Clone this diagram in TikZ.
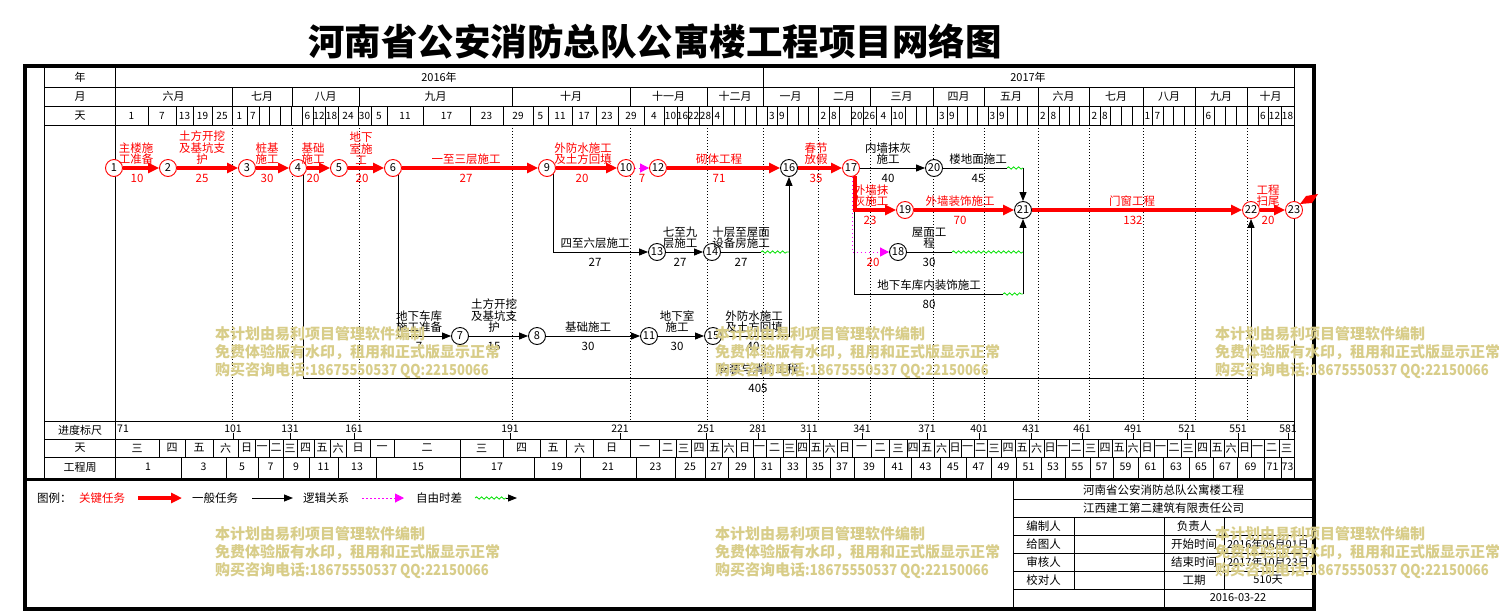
\documentclass[tikz,border=0pt]{standalone}
\usepackage{fontspec}
\setmainfont{Noto Sans CJK SC}
\usetikzlibrary{arrows.meta,decorations.pathmorphing,calc}
\definecolor{wmcol}{RGB}{216,205,137}
\definecolor{magc}{RGB}{255,0,255}
\definecolor{grnc}{RGB}{0,225,0}
\newcommand\myfs[1]{\fontsize{#1}{#1}\selectfont}
\newcommand\wkname[1]{\ifcase#1 一\or 二\or 三\or 四\or 五\or 六\or 日\fi}
\pgfdeclarelayer{bglayer}
\pgfdeclarelayer{midlayer}
\pgfsetlayers{bglayer,midlayer,main}
\begin{document}
\begin{tikzpicture}[x=1pt,y=-1pt,
  every node/.style={inner sep=0pt,font=\myfs{11}},
  tnode/.style={circle,draw=black,line width=0.9pt,fill=white,minimum size=17pt,inner sep=0pt,font=\myfs{11}},
  cnode/.style={tnode,draw=red},
  crit/.style={draw=red,line width=3.5pt,-{Triangle[length=11pt,width=10pt]}},
  norm/.style={draw=black,line width=1pt,-{Triangle[length=9pt,width=7pt]}},
  plain/.style={draw=black,line width=1pt},
  gridline/.style={draw=black,line width=1pt},
  mdot/.style={draw=black,line width=0.9pt,dash pattern=on 1pt off 2pt},
  dummy/.style={draw=magc,line width=1pt,dash pattern=on 1.5pt off 2.5pt,-{Triangle[length=9pt,width=9pt]}},
  wave/.style={draw=grnc,line width=0.8pt,decorate,decoration={snake,amplitude=1.2pt,segment length=5pt}},
  lbl/.style={font=\myfs{11.5},align=center,anchor=south},
  clbl/.style={lbl,text=red},
  dur/.style={font=\myfs{11.5}},
  cdur/.style={dur,text=red},
  wmk/.style={font=\fontsize{15}{18}\selectfont\bfseries,text=wmcol,align=left,anchor=north west}
]
\useasboundingbox (0,0) rectangle (1499,614);
\begin{pgfonlayer}{bglayer}
\fill[white] (0,0) rectangle (1499,614);
% outer frame
\draw[line width=4pt] (25,66) rectangle (1314,609);
\draw[line width=3pt] (25,479) -- (1314,479);
% table frame lines
\draw[gridline] (44,66) -- (44,479);
\draw[gridline] (115,66) -- (115,479);
\draw[gridline] (1294,66) -- (1294,479);
\foreach \y in {87,106,125,421,439,457} \draw[gridline] (44,\y) -- (1294,\y);
% year row
\draw[gridline] (763,68) -- (763,87);
% month row
\foreach \x in {232,292,359,512,630,707,763,818,870,933,984,1038,1089,1143,1195,1247}
  \draw[gridline] (\x,87) -- (\x,106);
% day row
\foreach \x in {148,176,193,212,232,247,259,269,280,291,302,313,325,338,358,371,387,423,470,503,533,548,572,596,618,644,664,677,688,699,712,723,734,745,756,767,777,787,798,808,818,829,839,851,863,876,891,905,916,926,937,947,957,967,977,988,997,1007,1017,1027,1038,1048,1059,1069,1079,1089,1100,1110,1121,1132,1143,1152,1163,1173,1184,1195,1203,1214,1225,1236,1247,1258,1268,1281}
  \draw[gridline] (\x,106) -- (\x,125);
% dotted month lines in the network
\foreach \x in {232,292,359,512,630,707,763,818,870,933,984,1038,1089,1143,1195,1247}
  \draw[mdot] (\x,125) -- (\x,421);
% title block
\draw[gridline] (1013,479) -- (1013,609);
\foreach \y in {499,517,535,553,571,589} \draw[gridline] (1013,\y) -- (1314,\y);
\draw[gridline] (1074,517) -- (1074,589);
\draw[gridline] (1164,517) -- (1164,609);
\draw[gridline] (1224,517) -- (1224,589);
\end{pgfonlayer}

% title
\node[font=\myfs{36.5}\bfseries] (title) at (655,42) {河南省公安消防总队公寓楼工程项目网络图};

% header texts
\node (hy) at (80,77) {年};
\node (hm) at (80,96.5) {月};
\node (hd) at (80,115.5) {天};
\node (y16) at (439,77) {2016年};
\node (y17) at (1028,77) {2017年};
\foreach \x/\t [count=\i] in {173.5/六月,262/七月,325.5/八月,435.5/九月,571/十月,668.5/十一月,735/十二月,790.5/一月,844/二月,901.5/三月,958.5/四月,1011/五月,1063.5/六月,1116/七月,1169/八月,1221/九月,1270.5/十月}
  \node (mo\i) at (\x,96.5) {\t};
\foreach \x/\t [count=\i] in {131.5/1,162/7,184.5/13,202.5/19,222/25,239.5/1,253/7,307.5/6,319/12,331.5/18,348/24,364.5/30,379/5,405/11,446.5/17,486.5/23,518/29,540.5/5,560/11,584/17,607/23,631/29,654/4,670.5/10,682.5/16,693.5/22,705.5/28,717.5/4,772/3,782/9,823.5/2,834/8,857/20,869.5/26,883.5/4,898/10,942/3,952/9,992.5/3,1002/9,1043/2,1053.5/8,1094.5/2,1105/8,1147.5/1,1157.5/7,1208.5/6,1263/6,1274.5/12,1287.5/18}
  \node[font=\myfs{10}] (dy\i) at (\x,115.5) {\t};

% bottom rows
\node (bs) at (80,430) {进度标尺};
\node (bd) at (80,448) {天};
\node (bw) at (80,467) {工程周};
\node[font=\myfs{10.5},anchor=west] (sc0) at (117,429) {71};
\foreach \x/\v [count=\i] in {233/101,290/131,354/161,510/191,620/221,706/251,758/281,809/311,862/341,927/371,979/401,1031/431,1082/461,1133/491,1187/521,1238/551,1288/581}{
  \draw[gridline] (\x,433) -- (\x,439);
  \node[font=\myfs{10.5}] (sc\i) at (\x,428.5) {\v};
}
\foreach \b [remember=\b as \a (initially 115), count=\i from 0] in {159,185,213,238,255,269,283,297,314,330,346,370,394,460,503,540,566,593,630,659,676,691,707,722,736,753,766,783,796,809,823,837,852,871,889,907,919,934,949,961,974,987,1001,1015,1029,1044,1056,1069,1083,1098,1112,1126,1140,1154,1167,1181,1195,1210,1224,1238,1251,1264,1279,1294}{
  \pgfmathtruncatemacro\wkidx{mod(\i+2,7)}
  \draw[gridline] (\b,439) -- (\b,457);
  \node (wk\i) at ({(\a+\b)/2},448) {\wkname{\wkidx}};
}
\foreach \b [remember=\b as \a (initially 115), count=\i from 0] in {181,226,258,283,309,338,376,460,534,580,636,675,705,728,754,780,806,830,854,884,911,940,966,991,1016,1041,1065,1090,1113,1138,1163,1189,1213,1237,1264,1281,1294}{
  \pgfmathtruncatemacro\wknum{2*\i+1}
  \draw[gridline] (\b,457) -- (\b,478);
  \node[font=\myfs{10.5}] (wn\i) at ({(\a+\b)/2},467) {\wknum};
}

% network nodes
\node[cnode] (n1) at (114,168) {1};
\node[cnode] (n2) at (168,168) {2};
\node[cnode] (n3) at (247,168) {3};
\node[cnode] (n4) at (298,168) {4};
\node[cnode] (n5) at (339,168) {5};
\node[cnode] (n6) at (393,168) {6};
\node[cnode] (n9) at (547,168) {9};
\node[cnode] (n10) at (626,168) {10};
\node[cnode] (n12) at (658,168) {12};
\node[tnode] (n16) at (789,168) {16};
\node[cnode] (n17) at (851,168) {17};
\node[tnode] (n20) at (934,168) {20};
\node[cnode] (n19) at (905,210) {19};
\node[tnode] (n21) at (1023,210) {21};
\node[cnode] (n22) at (1251,210) {22};
\node[cnode] (n23) at (1294,210) {23};
\node[tnode] (n18) at (898,252) {18};
\node[tnode] (n13) at (657,252) {13};
\node[tnode] (n14) at (712,252) {14};
\node[tnode] (n7) at (460,336) {7};
\node[tnode] (n8) at (537,336) {8};
\node[tnode] (n11) at (649,336) {11};
\node[tnode] (n15) at (713,336) {15};

\coordinate (c20a) at (1007,168);
\coordinate (c21n) at (1023,168);
\coordinate (c18a) at (952,252);
\coordinate (c18b) at (1023,252);
\coordinate (c80a) at (1003,294);
\coordinate (c80b) at (1023,294);
\coordinate (c14a) at (761,252);
\coordinate (c14b) at (789,252);
\coordinate (c405) at (1251,378);

\begin{pgfonlayer}{midlayer}
% general tasks
\draw[norm] (n4.-54) |- (c405) -- (n22.south);
\draw[norm] (n6.-54) |- (n7.west);
\draw[norm] (n7) -- (n8);
\draw[norm] (n8) -- (n11);
\draw[norm] (n11) -- (n15);
\draw[norm] (n15) -| (n16.south);
\draw[norm] (n9.-45) |- (n13.west);
\draw[norm] (n13) -- (n14);
\draw[plain] (n14) -- (c14a);
\draw[wave] (c14a) -- (c14b);
\draw[norm] (n17) -- (n20);
\draw[plain] (n20) -- (c20a);
\draw[wave] (c20a) -- (c21n);
\draw[norm] (c21n) -- (n21);
\draw[plain] (n18) -- (c18a);
\draw[wave] (c18a) -- (c18b);
\draw[plain] (n17.-65) |- (c80a);
\draw[wave] (c80a) -- (c80b);
\draw[norm] (c80b) -- (n21);
% logic relations
\draw[dummy] (n10) -- (n12);
\draw[dummy] (n17.-83) |- (n18.west);
% critical path
\draw[crit] (n1) -- (n2);
\draw[crit] (n2) -- (n3);
\draw[crit] (n3) -- (n4);
\draw[crit] (n4) -- (n5);
\draw[crit] (n5) -- (n6);
\draw[crit] (n6) -- (n9);
\draw[crit] (n9) -- (n10);
\draw[crit] (n12) -- (n16);
\draw[crit] (n16) -- (n17);
\draw[crit] (n17.-65) |- (n19.west);
\draw[crit] (n19) -- (n21);
\draw[crit] (n21) -- (n22);
\draw[crit] (n22) -- (n23);
\fill[red] (1300,204) -- (1306,196) -- (1318,194) -- (1312,203) -- cycle;
\end{pgfonlayer}

% critical labels
\node[clbl] (l12) at (136,165) {主楼施\\工准备};
\node[cdur] (d12) at (137,178) {10};
\node[clbl] (l23) at (202,165) {土方开挖\\及基坑支\\护};
\node[cdur] (d23) at (202,178) {25};
\node[clbl] (l34) at (267,165) {桩基\\施工};
\node[cdur] (d34) at (267,178) {30};
\node[clbl] (l45) at (313,165) {基础\\施工};
\node[cdur] (d45) at (313,178) {20};
\node[clbl] (l56) at (361,165) {地下\\室施\\工};
\node[cdur] (d56) at (362,178) {20};
\node[clbl] (l69) at (466,165) {一至三层施工};
\node[cdur] (d69) at (466,178) {27};
\node[clbl] (l910) at (583,165) {外防水施工\\及土方回填};
\node[cdur] (d910) at (582,178) {20};
\node[cdur] (d1012) at (642,178) {7};
\node[clbl] (l1216) at (719,165) {砌体工程};
\node[cdur] (d1216) at (719,178) {71};
\node[clbl] (l1617) at (816,165) {春节\\放假};
\node[cdur] (d1617) at (816,178) {35};
\node[clbl] (l1719) at (871,207) {外墙抹\\灰施工};
\node[cdur] (d1719) at (870,220) {23};
\node[clbl] (l1921) at (960,207) {外墙装饰施工};
\node[cdur] (d1921) at (960,220) {70};
\node[clbl] (l2122) at (1132,207) {门窗工程};
\node[cdur] (d2122) at (1133,220) {132};
\node[clbl] (l2223) at (1268,207) {工程\\扫尾};
\node[cdur] (d2223) at (1268,220) {20};
\node[cdur] (d1718) at (873,262) {20};
% general labels
\node[lbl] (l1720) at (888,165) {内墙抹灰\\施工};
\node[dur] (d1720) at (888,178) {40};
\node[lbl] (l2021) at (978,165) {楼地面施工};
\node[dur] (d2021) at (978,178) {45};
\node[lbl] (l1821) at (929,249) {屋面工\\程};
\node[dur] (d1821) at (929,262) {30};
\node[lbl] (l1721) at (929,291) {地下车库内装饰施工};
\node[dur] (d1721) at (929,304) {80};
\node[lbl] (l913) at (595,249) {四至六层施工};
\node[dur] (d913) at (595,262) {27};
\node[lbl] (l1314) at (680,249) {七至九\\层施工};
\node[dur] (d1314) at (680,262) {27};
\node[lbl] (l1416) at (741,249) {十层至屋面\\设备房施工};
\node[dur] (d1416) at (741,262) {27};
\node[lbl] (l67) at (419,333) {地下车库\\施工准备};
\node[dur] (d67) at (419,346) {7};
\node[lbl] (l78) at (494,333) {土方开挖\\及基坑支\\护};
\node[dur] (d78) at (494,346) {15};
\node[lbl] (l811) at (588,333) {基础施工};
\node[dur] (d811) at (588,346) {30};
\node[lbl] (l1115) at (677,333) {地下室\\施工};
\node[dur] (d1115) at (677,346) {30};
\node[lbl] (l1516) at (754,333) {外防水施工\\及土方回填};
\node[dur] (d1516) at (753,346) {40};
\node[lbl] (l422) at (758,375) {安装与消防工程};
\node[dur] (d422) at (758,388) {405};

% legend
\node[anchor=west,font=\myfs{11.5}] (lg0) at (37,498) {图例：};
\node[anchor=west,font=\myfs{11.5},text=red] (lg1) at (79,498) {关键任务};
\coordinate (la1) at (138,498); \coordinate (la2) at (182,498);
\draw[crit] (la1) -- (la2);
\node[anchor=west,font=\myfs{11.5}] (lg2) at (192,498) {一般任务};
\coordinate (lb1) at (252,498); \coordinate (lb2) at (293,498);
\draw[norm] (lb1) -- (lb2);
\node[anchor=west,font=\myfs{11.5}] (lg3) at (303,498) {逻辑关系};
\coordinate (lc1) at (362,498); \coordinate (lc2) at (404,498);
\draw[dummy] (lc1) -- (lc2);
\node[anchor=west,font=\myfs{11.5}] (lg4) at (416,498) {自由时差};
\coordinate (ld1) at (475,498); \coordinate (ld2) at (506,498); \coordinate (ld3) at (517,498);
\draw[wave] (ld1) -- (ld2);
\draw[norm] (ld2) -- (ld3);

% title block texts
\node[font=\myfs{11.5}] (tb1) at (1163.5,490) {河南省公安消防总队公寓楼工程};
\node[font=\myfs{11.5}] (tb2) at (1163.5,508) {江西建工第二建筑有限责任公司};
\node[font=\myfs{11.5}] (tb3) at (1043.5,526) {编制人};
\node[font=\myfs{11.5}] (tb4) at (1043.5,544) {给图人};
\node[font=\myfs{11.5}] (tb5) at (1043.5,562) {审核人};
\node[font=\myfs{11.5}] (tb6) at (1043.5,580) {校对人};
\node[font=\myfs{11.5}] (tb7) at (1194,526) {负责人};
\node[font=\myfs{11.5}] (tb8) at (1194,544) {开始时间};
\node[font=\myfs{11.5}] (tb9) at (1194,562) {结束时间};
\node[font=\myfs{11.5}] (tb10) at (1194,580) {工期};
\node[font=\myfs{11}] (tb11) at (1268,544) {2016年06月01日};
\node[font=\myfs{11}] (tb12) at (1268,562) {2017年10月23日};
\node[font=\myfs{11}] (tb13) at (1268,580) {510天};
\node[font=\myfs{11}] (tb14) at (1238,598) {2016-03-22};

% watermarks
\foreach \wx/\wy [count=\i] in {215/326,715/326,1215/326,215/526,715/526,1215/526}
  \node[wmk] (wm\i) at (\wx,\wy) {本计划由易利项目管理软件编制\\免费体验版有水印，租用和正式版显示正常\\购买咨询电话\scalebox{0.87}[1]{:18675550537 QQ:22150066}};
\end{tikzpicture}
\end{document}
